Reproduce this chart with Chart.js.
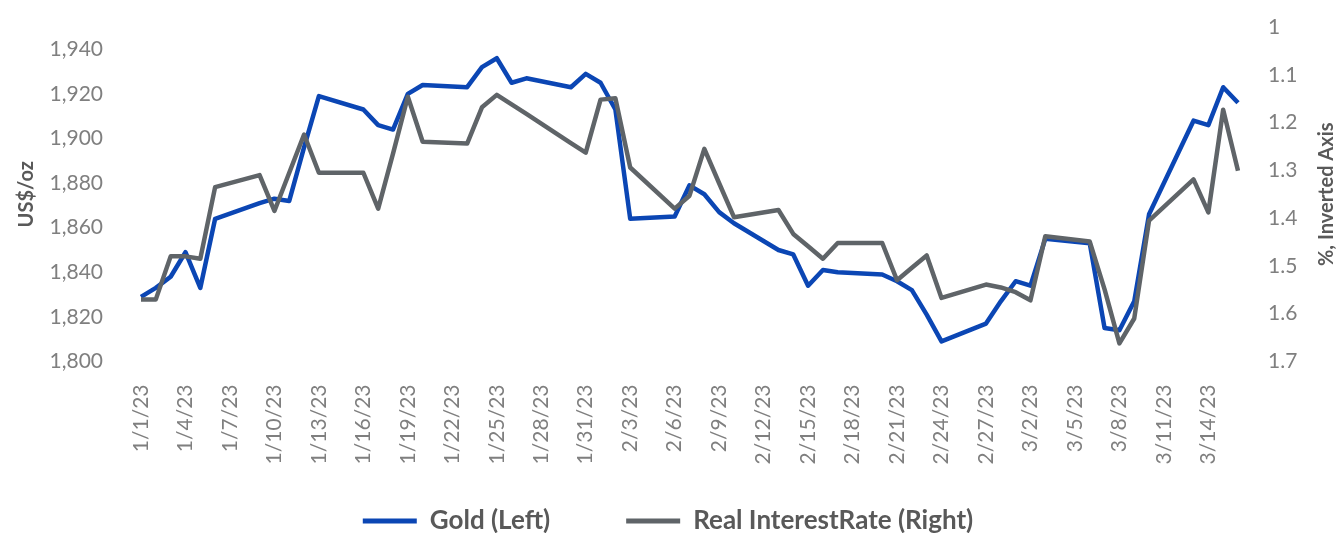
<!DOCTYPE html>
<html>
<head>
<meta charset="utf-8">
<script src="https://cdn.jsdelivr.net/npm/chart.js@4/dist/chart.umd.min.js"></script>
<style>
  html, body { margin: 0; padding: 0; background: #fff; }
  #wrap { width: 1336px; height: 533px; position: relative; }
</style>
</head>
<body>
<div id="wrap"><canvas id="goldChart"></canvas></div>
<script>
// one label per calendar day, weekends carry no value
var days = [
  '1/1/23','1/2/23','1/3/23','1/4/23','1/5/23','1/6/23','1/7/23','1/8/23','1/9/23','1/10/23',
  '1/11/23','1/12/23','1/13/23','1/14/23','1/15/23','1/16/23','1/17/23','1/18/23','1/19/23','1/20/23',
  '1/21/23','1/22/23','1/23/23','1/24/23','1/25/23','1/26/23','1/27/23','1/28/23','1/29/23','1/30/23',
  '1/31/23','2/1/23','2/2/23','2/3/23','2/4/23','2/5/23','2/6/23','2/7/23','2/8/23','2/9/23',
  '2/10/23','2/11/23','2/12/23','2/13/23','2/14/23','2/15/23','2/16/23','2/17/23','2/18/23','2/19/23',
  '2/20/23','2/21/23','2/22/23','2/23/23','2/24/23','2/25/23','2/26/23','2/27/23','2/28/23','3/1/23',
  '3/2/23','3/3/23','3/4/23','3/5/23','3/6/23','3/7/23','3/8/23','3/9/23','3/10/23','3/11/23',
  '3/12/23','3/13/23','3/14/23','3/15/23','3/16/23'
];

// Gold, US$/oz (left axis)
var gold = [
  1829, 1833, 1838, 1849, 1833, 1864, null, null, 1871, 1873,
  1872, 1896, 1919, null, null, 1913, 1906, 1904, 1920, 1924,
  null, null, 1923, 1932, 1936, 1925, 1927, null, null, 1923,
  1929, 1925, 1913, 1864, null, null, 1865, 1879, 1875, 1867,
  1862, null, null, 1850, 1848, 1834, 1841, 1840, null, null,
  1839, 1836, 1832, 1821, 1809, null, null, 1817, 1827, 1836,
  1834, 1855, null, null, 1853, 1815, 1814, 1827, 1866, null,
  null, 1908, 1906, 1923, 1916
];

// Real interest rate, % (right axis, inverted)
var realRate = [
  1.570, 1.570, 1.480, 1.480, 1.485, 1.335, null, null, 1.310, 1.385,
  1.305, 1.225, 1.305, null, null, 1.305, 1.380, 1.265, 1.146, 1.240,
  null, null, 1.244, 1.168, 1.142, 1.162, 1.182, null, null, 1.243,
  1.263, 1.152, 1.149, 1.294, null, null, 1.380, 1.353, 1.255, 1.327,
  1.398, null, null, 1.383, 1.433, 1.459, 1.485, 1.452, null, null,
  1.452, 1.530, 1.504, 1.478, 1.567, null, null, 1.539, 1.545, 1.555,
  1.572, 1.438, null, null, 1.449, 1.549, 1.662, 1.610, 1.405, null,
  null, 1.319, 1.388, 1.173, 1.301
];

var BLUE = '#0b46b4';
var GREY = '#5f6468';
var TICK_GREY = '#7f7f7f';
var TITLE_GREY = '#595959';

// right axis title reads bottom-to-top, chart.js would rotate it the other way
var rightTitle = {
  id: 'rightTitle',
  afterDraw: function(chart) {
    var s = chart.scales.y1;
    var ctx = chart.ctx;
    ctx.save();
    ctx.translate(s.right - 9, (s.top + s.bottom) / 2);
    ctx.rotate(-Math.PI / 2);
    ctx.font = 'bold 20px Lato';
    ctx.fillStyle = TITLE_GREY;
    ctx.textAlign = 'center';
    ctx.textBaseline = 'middle';
    ctx.fillText('%, Inverted Axis', 0, 0);
    ctx.restore();
  }
};

// fixed axis widths, and no extra top/bottom padding from tick padding
function fixWidth(w) {
  return function(scale) {
    scale.width = w;
    scale.paddingTop = 0;
    scale.paddingBottom = 0;
  };
}

var ctx = document.getElementById('goldChart').getContext('2d');
var myChart = new Chart(ctx, {
    type: 'line',
    data: {
        labels: days,
        datasets: [{
            label: 'Gold (Left)',
            data: gold,
            yAxisID: 'y',
            borderColor: BLUE,
            backgroundColor: BLUE,
            borderWidth: 4.5,
            order: 1
        }, {
            label: 'Real InterestRate (Right)',
            data: realRate,
            yAxisID: 'y1',
            borderColor: GREY,
            backgroundColor: GREY,
            borderWidth: 4.5,
            order: 0
        }]
    },
    options: {
        responsive: true,
        maintainAspectRatio: false,
        animation: false,
        spanGaps: true,
        elements: {
            point: { radius: 0, hoverRadius: 0 },
            line: { tension: 0, borderJoinStyle: 'round' }
        },
        layout: {
            padding: { left: 0, right: 0, top: 27, bottom: -11 }
        },
        plugins: {
            tooltip: { enabled: false },
            legend: {
                position: 'bottom',
                labels: {
                    boxWidth: 54,
                    boxHeight: 5,
                    padding: 76,
                    color: TITLE_GREY,
                    font: { family: 'Lato', size: 26, weight: 'bold' },
                    sort: function(a, b) { return a.datasetIndex - b.datasetIndex; },
                    generateLabels: function(chart) {
                        var items = Chart.defaults.plugins.legend.labels.generateLabels(chart);
                        items.forEach(function(it) { it.lineWidth = 0; });
                        return items;
                    }
                }
            }
        },
        scales: {
            x: {
                grid: { display: false, drawTicks: false },
                border: { display: false },
                ticks: {
                    autoSkip: false,
                    minRotation: 90,
                    maxRotation: 90,
                    padding: 23,
                    color: TICK_GREY,
                    font: { family: 'Lato', size: 21 },
                    callback: function(val, index) {
                        return index % 3 === 0 ? this.getLabelForValue(val) : null;
                    }
                },
                afterFit: function(scale) {
                    scale.height = 70.5;
                    // let the rotated labels run past the axis box
                    scale._computeLabelArea = function() { return null; };
                }
            },
            y: {
                position: 'left',
                min: 1800,
                max: 1950,
                grid: { display: false, drawTicks: false },
                border: { display: false },
                ticks: {
                    stepSize: 20,
                    includeBounds: false,
                    padding: 38,
                    color: TICK_GREY,
                    font: { family: 'Lato', size: 21 }
                },
                title: {
                    display: true,
                    text: 'US$/oz',
                    color: TITLE_GREY,
                    font: { family: 'Lato', size: 20, weight: 'bold' },
                    padding: { top: 15, bottom: 0 }
                },
                afterFit: fixWidth(141)
            },
            y1: {
                position: 'right',
                reverse: true,
                min: 1,
                max: 1.7,
                grid: { display: false, drawTicks: false },
                border: { display: false },
                ticks: {
                    stepSize: 0.1,
                    padding: 30,
                    color: TICK_GREY,
                    font: { family: 'Lato', size: 21 },
                    callback: function(v) { return String(Number(v.toFixed(1))); }
                },
                afterFit: fixWidth(98)
            }
        }
    },
    plugins: [rightTitle]
});
</script>
</body>
</html>
